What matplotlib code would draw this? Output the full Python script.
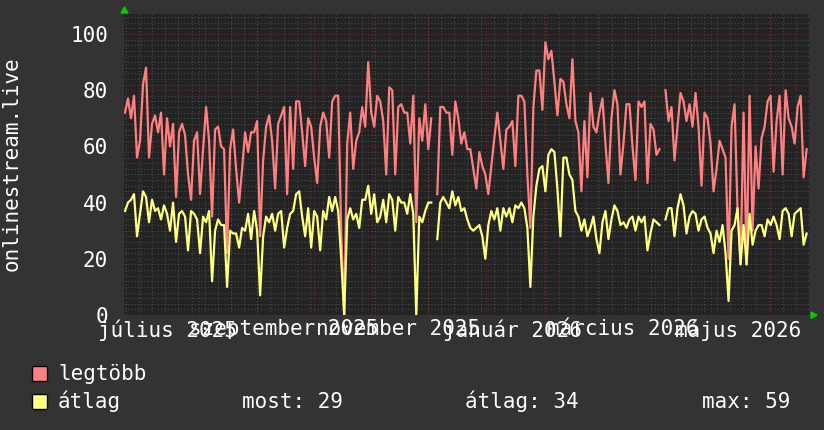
import numpy as np
import pandas as pd
import matplotlib
matplotlib.use("Agg")
import matplotlib.pyplot as plt
import matplotlib.dates as mdates
from matplotlib.patches import Rectangle, Polygon

# --- data (one point every ~1.6 days) ---
data_start = "2025-06-22 12:48"
step_hours = 38.4
nan = np.nan

legtobb = [
    72, 77, 70, 78, 56, 62, 82, 88, 56, 68, 71, 65, 72, 50, 70, 60, 68, 42, 65, 68,
    64, 50, 41, 62, 65, 43, 59, 74, 62, 35, 66, 67, 60, 59, 22, 59, 66, 52, 40, 52,
    65, 58, 65, 65, 69, 28, 55, 67, 71, 62, 45, 68, 71, 74, 43, 74, 52, 76, 76, 65,
    53, 70, 67, 56, 47, 67, 72, 69, 56, 76, 78, 78, 30, 0, 61, 72, 52, 62, 65, 74,
    67, 90, 72, 67, 78, 76, 69, 50, 81, 80, 50, 74, 75, 72, 72, 61, 78, 33, 70, 62,
    75, 59, 70, nan, 43, 74, 74, 72, 72, 57, 76, 70, 61, 65, 59, 59, 52, 45, 58, 53,
    50, 43, 53, 63, 72, 62, 52, 66, 67, 69, 53, 78, 78, 76, 50, 31, 74, 87, 87, 73,
    97, 91, 94, 83, 71, 84, 83, 75, 70, 91, 69, 65, 44, 69, 49, 79, 67, 65, 72, 77,
    61, 47, 70, 80, 75, 50, 61, 75, 75, 60, 48, 76, 74, 76, 47, 68, 66, 57, 59, nan,
    80, 69, 74, 55, 67, 79, 76, 69, 75, 67, 79, 67, 46, 72, 70, 61, 44, 52, 62, 59,
    56, 20, 67, 75, 37, 18, 72, 18, 78, 30, 60, 45, 63, 67, 76, 78, 51, 69, 78, 50,
    80, 70, 67, 61, 74, 78, 49, 59,
]

atlag = [
    37, 40, 41, 43, 28, 36, 44, 42, 33, 41, 37, 38, 34, 39, 36, 30, 40, 26, 36, 37,
    35, 23, 37, 36, 34, 22, 35, 33, 37, 12, 30, 34, 32, 32, 10, 30, 29, 29, 24, 31,
    30, 36, 27, 37, 30, 7, 28, 35, 33, 36, 30, 36, 37, 24, 31, 36, 37, 43, 44, 35,
    28, 38, 24, 37, 35, 23, 37, 34, 42, 37, 42, 37, 20, 0, 34, 38, 34, 36, 31, 41,
    41, 46, 36, 43, 33, 35, 41, 33, 43, 41, 30, 42, 40, 40, 36, 43, 36, 0, 35, 33,
    37, 40, 40, nan, 27, 40, 42, 40, 38, 44, 39, 42, 37, 38, 34, 31, 30, 31, 32, 28,
    20, 32, 37, 34, 38, 30, 38, 35, 38, 33, 39, 38, 40, 38, 31, 10, 35, 46, 52, 53,
    44, 57, 59, 58, 45, 28, 56, 56, 50, 48, 37, 35, 30, 34, 28, 31, 35, 27, 22, 33,
    37, 27, 34, 39, 37, 32, 33, 31, 34, 35, 30, 35, 33, 35, 23, 29, 34, 33, 32, nan,
    34, 38, 38, 28, 38, 43, 39, 29, 35, 37, 36, 30, 34, 35, 31, 29, 22, 30, 26, 32,
    22, 5, 30, 32, 38, 18, 32, 18, 36, 25, 30, 32, 32, 28, 34, 32, 35, 32, 27, 37,
    38, 36, 28, 36, 37, 38, 25, 29,
]

y_ticks = [0, 20, 40, 60, 80, 100]
x_label_months = ["2025-07-01", "2025-09-01", "2025-11-01", "2026-01-01", "2026-03-01", "2026-05-01"]
x_labels = ["július 2025", "szeptember 2025", "november 2025", "január 2026", "március 2026", "május 2026"]
stats = ["most: 29", "átlag: 34", "max: 59"]
y_title = "onlinestream.live"

# --- look ---
W, H = 824, 430
BG = "#333333"
CANVAS = "#232323"
RED = "#FF8080"
YELLOW = "#FFFF80"
FONT = "DejaVu Sans Mono"
FS = 15

plt.rcParams["font.family"] = [FONT, "DejaVu Sans"]


def fx(x):
    return x / W


def fy(y):
    return 1 - y / H


fig = plt.figure(figsize=(W / 100, H / 100), dpi=100, facecolor=BG)
left, right, top, bottom = 124, 809, 14, 315
ax = fig.add_axes([fx(left), fy(bottom), fx(right) - fx(left), fy(top) - fy(bottom)])
ax.set_facecolor(CANVAS)

t0 = pd.Timestamp("2025-06-22")
t1 = pd.Timestamp("2026-06-22")
times = pd.Timestamp(data_start) + pd.to_timedelta(np.arange(len(legtobb)) * step_hours, unit="h")
tnum = mdates.date2num(times.to_pydatetime())

ax.set_xlim(mdates.date2num(t0), mdates.date2num(t1))
ax.set_ylim(0, 107.1)

# grid like rrdtool: weekly / 2-unit minor, monthly / 20-unit major
dots = (0, (1, 2))
for d in pd.date_range(t0, t1, freq="W-MON"):
    ax.axvline(mdates.date2num(d), color="#ffffff", alpha=0.17, lw=0.8, ls=dots, zorder=1)
for v in range(2, 108, 2):
    if v % 20:
        ax.axhline(v, color="#ffffff", alpha=0.17, lw=0.8, ls=dots, zorder=1)
for d in pd.date_range(t0, t1, freq="MS"):
    ax.axvline(mdates.date2num(d), color="#ff3030", alpha=0.35, lw=0.8, ls=dots, zorder=1)
for v in y_ticks:
    ax.axhline(v, color="#ff3030", alpha=0.35, lw=0.8, ls=dots, zorder=1)

ax.plot(tnum, legtobb, color=RED, lw=1.6, zorder=3)
ax.plot(tnum, atlag, color=YELLOW, lw=1.6, zorder=4)

ax.set_yticks(y_ticks)
ax.set_yticklabels([str(v) for v in y_ticks])
label_pos = [mdates.date2num(pd.Timestamp(m) + pd.Timedelta(days=14)) for m in x_label_months]
ax.set_xticks(label_pos)
ax.set_xticklabels(x_labels)
ax.tick_params(axis="both", length=0, colors="white", labelsize=FS)
ax.tick_params(axis="y", pad=11.5)
ax.tick_params(axis="x", pad=3)
for s in ax.spines.values():
    s.set_visible(False)

fig.text(fx(12), fy(164), y_title, rotation=90, ha="center", va="center",
         color="white", fontsize=FS, family=FONT)

# green arrows at the axis ends
fig.patches.append(Polygon([[fx(121), fy(13)], [fx(128), fy(13)], [fx(124.5), fy(7)]],
                           closed=True, color="#00CC00", transform=fig.transFigure))
fig.patches.append(Polygon([[fx(811), fy(312)], [fx(811), fy(318.5)], [fx(817), fy(315)]],
                           closed=True, color="#00CC00", transform=fig.transFigure))

# legend
for y_top, col, name in [(366, RED, "legtöbb"), (394, YELLOW, "átlag")]:
    fig.patches.append(Rectangle((fx(32), fy(y_top + 15)), 15 / W, 15 / H, facecolor=col,
                                 edgecolor="black", lw=1, transform=fig.transFigure))
    fig.text(fx(58), fy(y_top + 14), name, color="white", fontsize=FS, family=FONT, va="baseline")

for x0, s in zip([242, 465, 702], stats):
    fig.text(fx(x0), fy(408), s, color="white", fontsize=FS, family=FONT, va="baseline")

fig.savefig("out.png", dpi=100, facecolor=BG)
